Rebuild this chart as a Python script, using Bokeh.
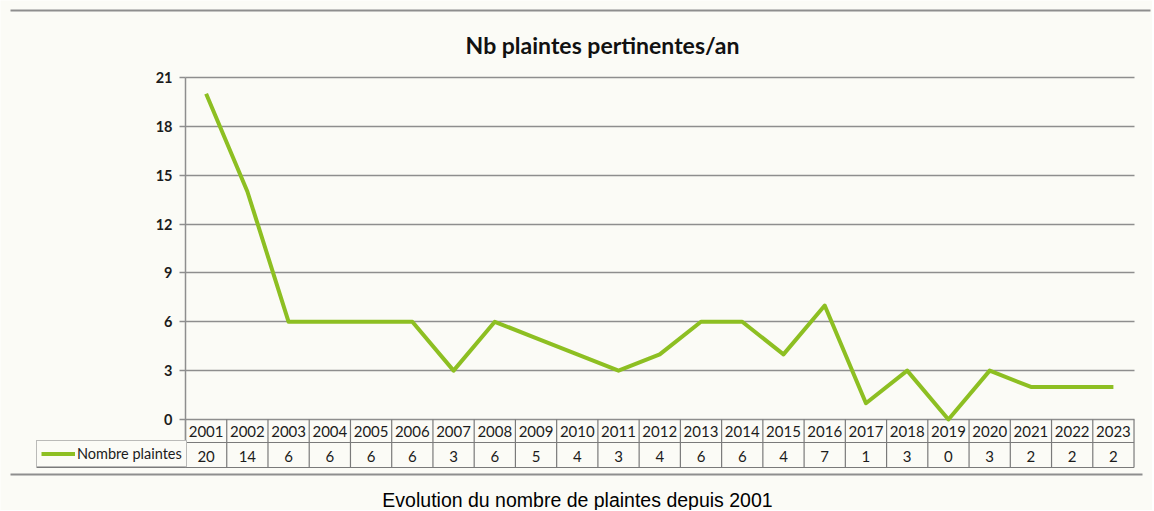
from bokeh.plotting import figure
from bokeh.models import Range1d, FixedTicker, LinearAxis, Label
from bokeh.core.properties import value
from bokeh.embed import file_html
from bokeh.resources import INLINE

# ---------------- data ----------------
years = ["2001", "2002", "2003", "2004", "2005", "2006", "2007", "2008",
         "2009", "2010", "2011", "2012", "2013", "2014", "2015", "2016",
         "2017", "2018", "2019", "2020", "2021", "2022", "2023"]
complaints = [20, 14, 6, 6, 6, 6, 3, 6, 5, 4, 3, 4, 6, 6, 4, 7, 1, 3, 0, 3, 2, 2, 2]
y_ticks = [0, 3, 6, 9, 12, 15, 18, 21]
title_text = "Nb plaintes pertinentes/an"
series_name = "Nombre plaintes"
caption = "Evolution du nombre de plaintes depuis 2001"

# ---------------- layout constants (page pixels) ----------------
W, H = 1152, 510
AXIS_X = 185             # y axis / left edge of the year columns
GRID_R = 1134            # right end of grid lines
COL_W = 41.24            # width of one year column
Y21_PX, Y0_PX = 77, 419  # pixel rows of y = 21 and y = 0
PX_PER_Y = (Y0_PX - Y21_PX) / 21.0
YEAR_ROW_BOT = 442
VAL_ROW_BOT = 467
LEG_L = 36

BG = "#fbfbf6"
GRID = "#8e8e8e"
BORDER = "#7a7a7a"
GREEN = "#8dbf22"
TXT = "#1c1c1c"


def dx(px):  # page x pixel -> data x
    return -0.5 + (px - AXIS_X) / COL_W


def dy(py):  # page y pixel -> data y
    return (Y0_PX - py) / PX_PER_Y


idx = list(range(len(years)))
bounds = [i - 0.5 for i in range(len(years) + 1)]

p = figure(width=W, height=H,
           x_range=Range1d(dx(0), dx(W)),
           y_range=Range1d(dy(H), dy(0)),
           x_axis_location=None, y_axis_location=None, min_border=0,
           toolbar_location=None, output_backend="svg")
p.background_fill_color = BG
p.border_fill_color = BG
p.outline_line_color = None
p.xgrid.visible = False

# ---- y axis drawn at the left edge of the chart area ----
ya = LinearAxis(fixed_location=dx(AXIS_X), bounds=(dy(VAL_ROW_BOT), 21),
                ticker=FixedTicker(ticks=y_ticks))
ya.minor_tick_line_color = None
ya.major_tick_in = 0
ya.major_tick_out = 6
ya.axis_line_color = GRID
ya.axis_line_width = 1.5
ya.major_tick_line_color = GRID
ya.major_tick_line_width = 1.5
ya.major_label_standoff = 7
ya.major_label_text_font = "Lato"
ya.major_label_text_font_style = "bold"
ya.major_label_text_font_size = "14.5px"
ya.major_label_text_color = TXT
p.add_layout(ya, "left")

yg = p.ygrid[0]
yg.ticker = FixedTicker(ticks=y_ticks)
yg.grid_line_color = GRID
yg.grid_line_width = 1.5
if "cross_bounds" in yg.properties():
    yg.cross_bounds = (dx(AXIS_X), dx(GRID_R))
else:
    yg.visible = False
    p.segment(x0=[dx(AXIS_X)] * len(y_ticks), y0=y_ticks,
              x1=[dx(GRID_R)] * len(y_ticks), y1=y_ticks,
              line_color=GRID, line_width=1.5)

# ---- data table under the chart ----
n = len(bounds)
p.segment(x0=bounds, y0=[0] * n, x1=bounds, y1=[dy(VAL_ROW_BOT)] * n,
          line_color=BORDER, line_width=1.2)
p.segment(x0=[dx(LEG_L), dx(LEG_L)], y0=[dy(YEAR_ROW_BOT), dy(VAL_ROW_BOT)],
          x1=[bounds[-1], bounds[-1]], y1=[dy(YEAR_ROW_BOT), dy(VAL_ROW_BOT)],
          line_color=BORDER, line_width=1.2)
p.text(x=idx, y=[dy(430.5)] * len(idx), text=years,
       text_align="center", text_baseline="middle",
       text_font=value("Lato"), text_font_size="15px", text_color=TXT)
p.text(x=idx, y=[dy(455.5)] * len(idx), text=[str(v) for v in complaints],
       text_align="center", text_baseline="middle",
       text_font=value("Lato"), text_font_size="15px", text_color=TXT)

# ---- the series ----
p.line(idx, complaints, line_color=GREEN, line_width=4, line_join="round",
       legend_label=series_name)

lg = p.legend[0]
lg.location = (LEG_L, H - VAL_ROW_BOT)
lg.margin = 0
lg.padding = 4
lg.spacing = 0
lg.glyph_width = 34
lg.glyph_height = 17
lg.label_height = 17
lg.label_standoff = 2
lg.label_text_font = "Lato"
lg.label_text_font_size = "14.5px"
lg.label_text_color = TXT
lg.border_line_color = BORDER
lg.border_line_width = 1.2
lg.background_fill_color = BG
lg.background_fill_alpha = 1.0

# ---- rules of the scanned page ----
p.segment(x0=[dx(10), dx(10)], y0=[dy(10), dy(474)],
          x1=[dx(1150), dx(1142)], y1=[dy(10), dy(474)],
          line_color=GRID, line_width=2)

# ---- title and caption ----
p.add_layout(Label(x=dx(602), y=dy(44), text=title_text,
                   text_align="center", text_baseline="middle",
                   text_font="Lato", text_font_style="bold",
                   text_font_size="23px", text_color="#111111"))
p.add_layout(Label(x=dx(577), y=dy(499), text=caption,
                   text_align="center", text_baseline="middle",
                   text_font="Liberation Sans", text_font_style="normal",
                   text_font_size="19.5px", text_color="#000000"))

open("out.html", "w").write(file_html(p, INLINE))
